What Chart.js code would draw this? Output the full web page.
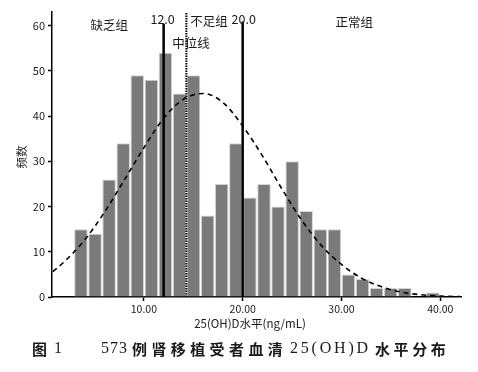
<!DOCTYPE html>
<html>
<head>
<meta charset="utf-8">
<script src="https://cdn.jsdelivr.net/npm/chart.js@4"></script>
<style>
  html, body { margin: 0; padding: 0; background: #fff; }
  #wrap { width: 478px; height: 372px; position: relative; }
</style>
</head>
<body>
<div id="wrap"><canvas id="grafico" width="478" height="372"></canvas></div>
<script>
/* histograma 25(OH)D — 573 receptores */

const binCenters = [3.63, 5.06, 6.48, 7.91, 9.33, 10.76, 12.18, 13.61, 15.03, 16.46, 17.88, 19.31, 20.73,
                    22.16, 23.58, 25.01, 26.43, 27.86, 29.28, 30.71, 32.13, 33.56, 34.98, 36.41, 37.83, 39.26];
const frequencias = [15, 14, 26, 34, 49, 48, 54, 45, 49, 18, 25, 34, 22,
                     25, 20, 30, 19, 15, 15, 5, 4, 2, 2, 2, 0, 1];

const curvaX = [0.8, 2, 4, 6, 8, 10, 12, 14, 16, 18, 20, 22, 24, 26, 28, 30, 32, 34, 36, 38, 40, 42];
const curvaY = [5.6, 7.9, 12.6, 18.7, 25.8, 33.0, 39.5, 43.7, 45.0, 43.0, 37.8, 31.2, 23.8, 16.9,
                11.3, 7.2, 4.2, 2.3, 1.1, 0.5, 0.2, 0.1];

const cortes = [12.0, 20.0];
const cortesTopo = [60.4, 60.9];
const mediana = 14.3;

const xTicks = [10, 20, 30, 40];
const yTicks = [0, 10, 20, 30, 40, 50, 60];

const FONTE = '"Noto Sans CJK SC", "Noto Sans", sans-serif';
const SERIFA = '"Liberation Serif", "DejaVu Serif", serif';

const barras = binCenters.map((x, i) => ({ x, y: frequencias[i] }));
const curva = curvaX.map((x, i) => ({ x, y: curvaY[i] }));

const linhasCorte = cortes.map((c, i) => ({
  type: 'line',
  data: [{ x: c, y: 0 }, { x: c, y: cortesTopo[i] }],
  borderColor: '#000',
  borderWidth: 2.5,
  pointRadius: 0,
  order: 1,
}));

/* textos sobre o gráfico + legenda da figura */
const textosPlugin = {
  id: 'textos',
  afterDraw(chart) {
    const { ctx, scales: { x } } = chart;
    ctx.save();
    ctx.fillStyle = '#1a1a1a';
    ctx.textBaseline = 'middle';

    ctx.font = '12.5px ' + FONTE;
    ctx.textAlign = 'center';
    ctx.fillText('缺乏组', x.getPixelForValue(6.5), 25);
    ctx.fillText('12.0', x.getPixelForValue(cortes[0]) - 1, 19);
    ctx.fillText('20.0', x.getPixelForValue(cortes[1]) + 1, 19);
    ctx.fillText('正常组', x.getPixelForValue(31.3), 22);
    ctx.textAlign = 'left';
    ctx.fillText('不足组', x.getPixelForValue(mediana) + 4, 21);
    ctx.fillText('中位线', x.getPixelForValue(mediana) - 14, 43);

    /* título do eixo x */
    ctx.textAlign = 'center';
    ctx.font = '11.5px ' + FONTE;
    ctx.fillText('25(OH)D水平(ng/mL)', 250, 324);

    /* título do eixo y */
    ctx.save();
    ctx.translate(22, 157);
    ctx.rotate(-Math.PI / 2);
    ctx.fillText('频数', 0, 0);
    ctx.restore();

    /* legenda da figura */
    ctx.textAlign = 'left';
    const trechos = [
      { t: '图', x: 32, f: 'bold 15px ' + FONTE, ls: '0px' },
      { t: '1', x: 54, f: '16px ' + SERIFA, ls: '0px' },
      { t: '573', x: 101, f: '16px ' + SERIFA, ls: '1px' },
      { t: '例肾移植受者血清', x: 132, f: 'bold 15px ' + FONTE, ls: '4.4px' },
      { t: '25(OH)D', x: 290, f: '16px ' + SERIFA, ls: '2.8px' },
      { t: '水平分布', x: 375, f: 'bold 15px ' + FONTE, ls: '3.6px' },
    ];
    trechos.forEach(s => {
      ctx.font = s.f;
      ctx.letterSpacing = s.ls;
      ctx.fillText(s.t, s.x, 349);
    });
    ctx.letterSpacing = '0px';
    ctx.restore();
  },
};

new Chart(document.getElementById('grafico'), {
  type: 'bar',
  data: {
    datasets: [
      {
        type: 'line',
        data: curva,
        borderColor: '#000',
        borderWidth: 1.6,
        borderDash: [5, 4],
        pointRadius: 0,
        cubicInterpolationMode: 'monotone',
        order: 0,
      },
      ...linhasCorte,
      {
        type: 'line',
        data: [{ x: mediana, y: 0 }, { x: mediana, y: 63 }],
        borderColor: '#000',
        borderWidth: 2,
        borderDash: [1.5, 1],
        pointRadius: 0,
        order: 1,
      },
      {
        type: 'bar',
        data: barras,
        backgroundColor: '#7a7a7a',
        borderColor: '#d4d4d4',
        borderWidth: 1,
        barPercentage: 1,
        categoryPercentage: 0.96,
        order: 3,
      },
    ],
  },
  options: {
    responsive: false,
    animation: false,
    layout: { padding: { top: 12, right: 17, left: 0, bottom: 0 } },
    plugins: {
      legend: { display: false },
      tooltip: { enabled: false },
    },
    scales: {
      x: {
        type: 'linear',
        offset: false,
        min: 0.7,
        max: 42.1,
        afterBuildTicks: axis => { axis.ticks = xTicks.map(v => ({ value: v })); },
        afterFit: axis => { axis.height = 75; },
        grid: { offset: false, drawOnChartArea: false, tickLength: 4, color: '#000', tickWidth: 1.5 },
        border: { color: '#000', width: 1.5 },
        ticks: {
          color: '#1a1a1a',
          font: { family: FONTE, size: 10.5 },
          padding: 2,
          maxRotation: 0,
          callback: v => v.toFixed(2),
        },
      },
      y: {
        min: 0,
        max: 63,
        afterBuildTicks: axis => { axis.ticks = yTicks.map(v => ({ value: v })); },
        afterFit: axis => { axis.width = 52; },
        grid: { offset: false, drawOnChartArea: false, tickLength: 4, color: '#000', tickWidth: 1.5 },
        border: { color: '#000', width: 1.5 },
        ticks: {
          color: '#1a1a1a',
          font: { family: FONTE, size: 11 },
          padding: 3,
        },
      },
    },
  },
  plugins: [textosPlugin],
});
</script>
</body>
</html>
